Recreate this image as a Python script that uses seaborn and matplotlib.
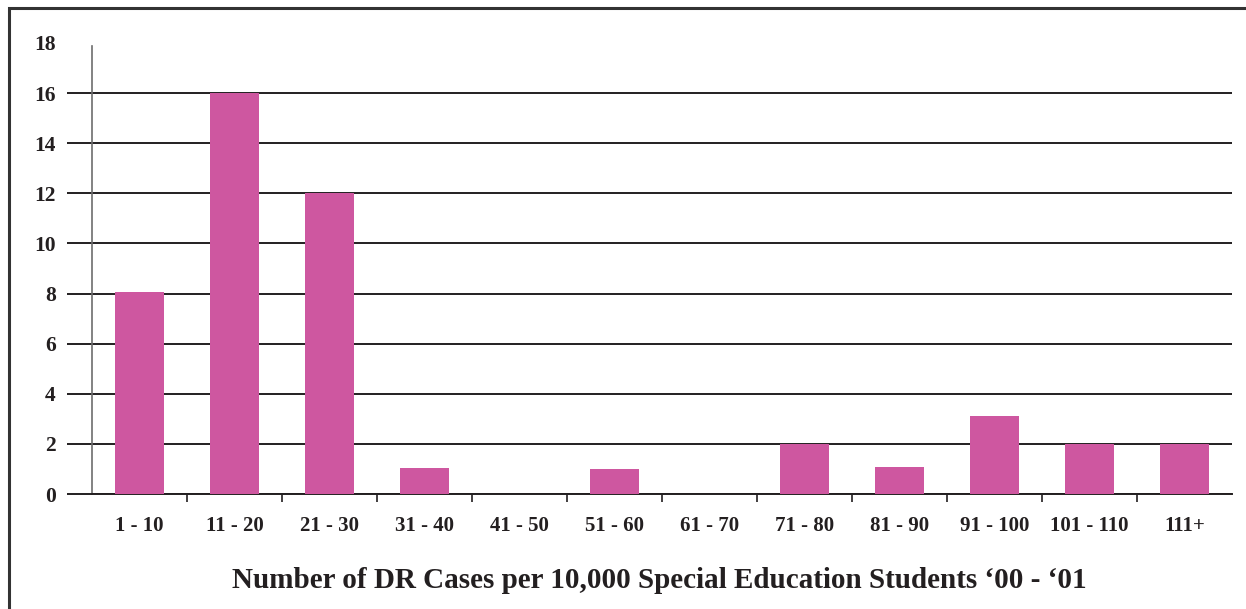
import matplotlib
matplotlib.use("Agg")
import matplotlib.pyplot as plt
from matplotlib.lines import Line2D
from matplotlib.ticker import FixedLocator
import seaborn as sns
import pandas as pd

# Districts by rate of DR cases per 10,000 special education students
categories = ["1 - 10", "11 - 20", "21 - 30", "31 - 40", "41 - 50", "51 - 60",
              "61 - 70", "71 - 80", "81 - 90", "91 - 100", "101 - 110", "111+"]
counts = [8.05, 16, 12, 1.05, 0, 1.0, 0, 2, 1.08, 3.1, 2, 2]
y_ticks = [0, 2, 4, 6, 8, 10, 12, 14, 16, 18]
title = "Number of DR Cases per 10,000 Special Education Students \u201800 - \u201801"

sns.set_theme(style="white")
plt.rcParams["font.family"] = ["Liberation Serif", "DejaVu Serif"]
plt.rcParams["font.weight"] = "bold"

df = pd.DataFrame({"range": categories, "count": counts})

fig = plt.figure(figsize=(12.46, 6.09), dpi=100)
ax = fig.add_axes([0.0738, 0.1888, 0.9150, 0.7406])

sns.barplot(data=df, x="range", y="count", color="#CE57A0", saturation=1,
            width=0.52, linewidth=0, ax=ax, zorder=3)

ax.set_xlim(-0.5, len(categories) - 0.5)
ax.set_ylim(0, 18)
ax.set_xlabel("")
ax.set_ylabel("")

# y axis: ticks extend left of the axis like short rules, gridlines across
ax.set_yticks(y_ticks)
ax.set_yticklabels([str(v) for v in y_ticks], fontsize=15.5, fontweight="bold",
                   color="#231f20")
ax.tick_params(axis="y", which="major", direction="out", length=18, width=1.4,
               color="#231f20", pad=8, left=True)
ax.yaxis.grid(True, color="#231f20", linewidth=1.4, zorder=1)
top_tick = ax.yaxis.get_major_ticks()[-1]
top_tick.tick1line.set_visible(False)
top_tick.gridline.set_visible(False)

# x axis: labels centred on bars, small ticks on the category boundaries
ax.tick_params(axis="x", which="major", length=0, pad=16)
for lbl in ax.get_xticklabels():
    lbl.set_fontsize(15)
    lbl.set_fontweight("bold")
    lbl.set_color("#231f20")
ax.xaxis.set_minor_locator(FixedLocator([i + 0.5 for i in range(len(categories) - 1)]))
ax.tick_params(axis="x", which="minor", direction="out", length=6, width=1.2,
               color="#231f20", bottom=True)

for side in ["top", "right"]:
    ax.spines[side].set_visible(False)
ax.spines["left"].set_color("#6d6d6d")
ax.spines["left"].set_linewidth(1.2)
ax.spines["left"].set_bounds(0, 17.9)
ax.spines["bottom"].set_color("#231f20")
ax.spines["bottom"].set_linewidth(1.4)
ax.set_axisbelow(True)

fig.text(0.529, 0.0460, title, ha="center", va="center", fontsize=21,
         fontweight="bold", color="#231f20")

# frame around the chart panel
fig.add_artist(Line2D([9 / 1246, 9 / 1246, 1.0], [0.0, 1 - 8 / 609, 1 - 8 / 609],
                      transform=fig.transFigure, color="#333333", linewidth=2.2,
                      solid_joinstyle="miter"))

fig.savefig("out.png", dpi=100)
